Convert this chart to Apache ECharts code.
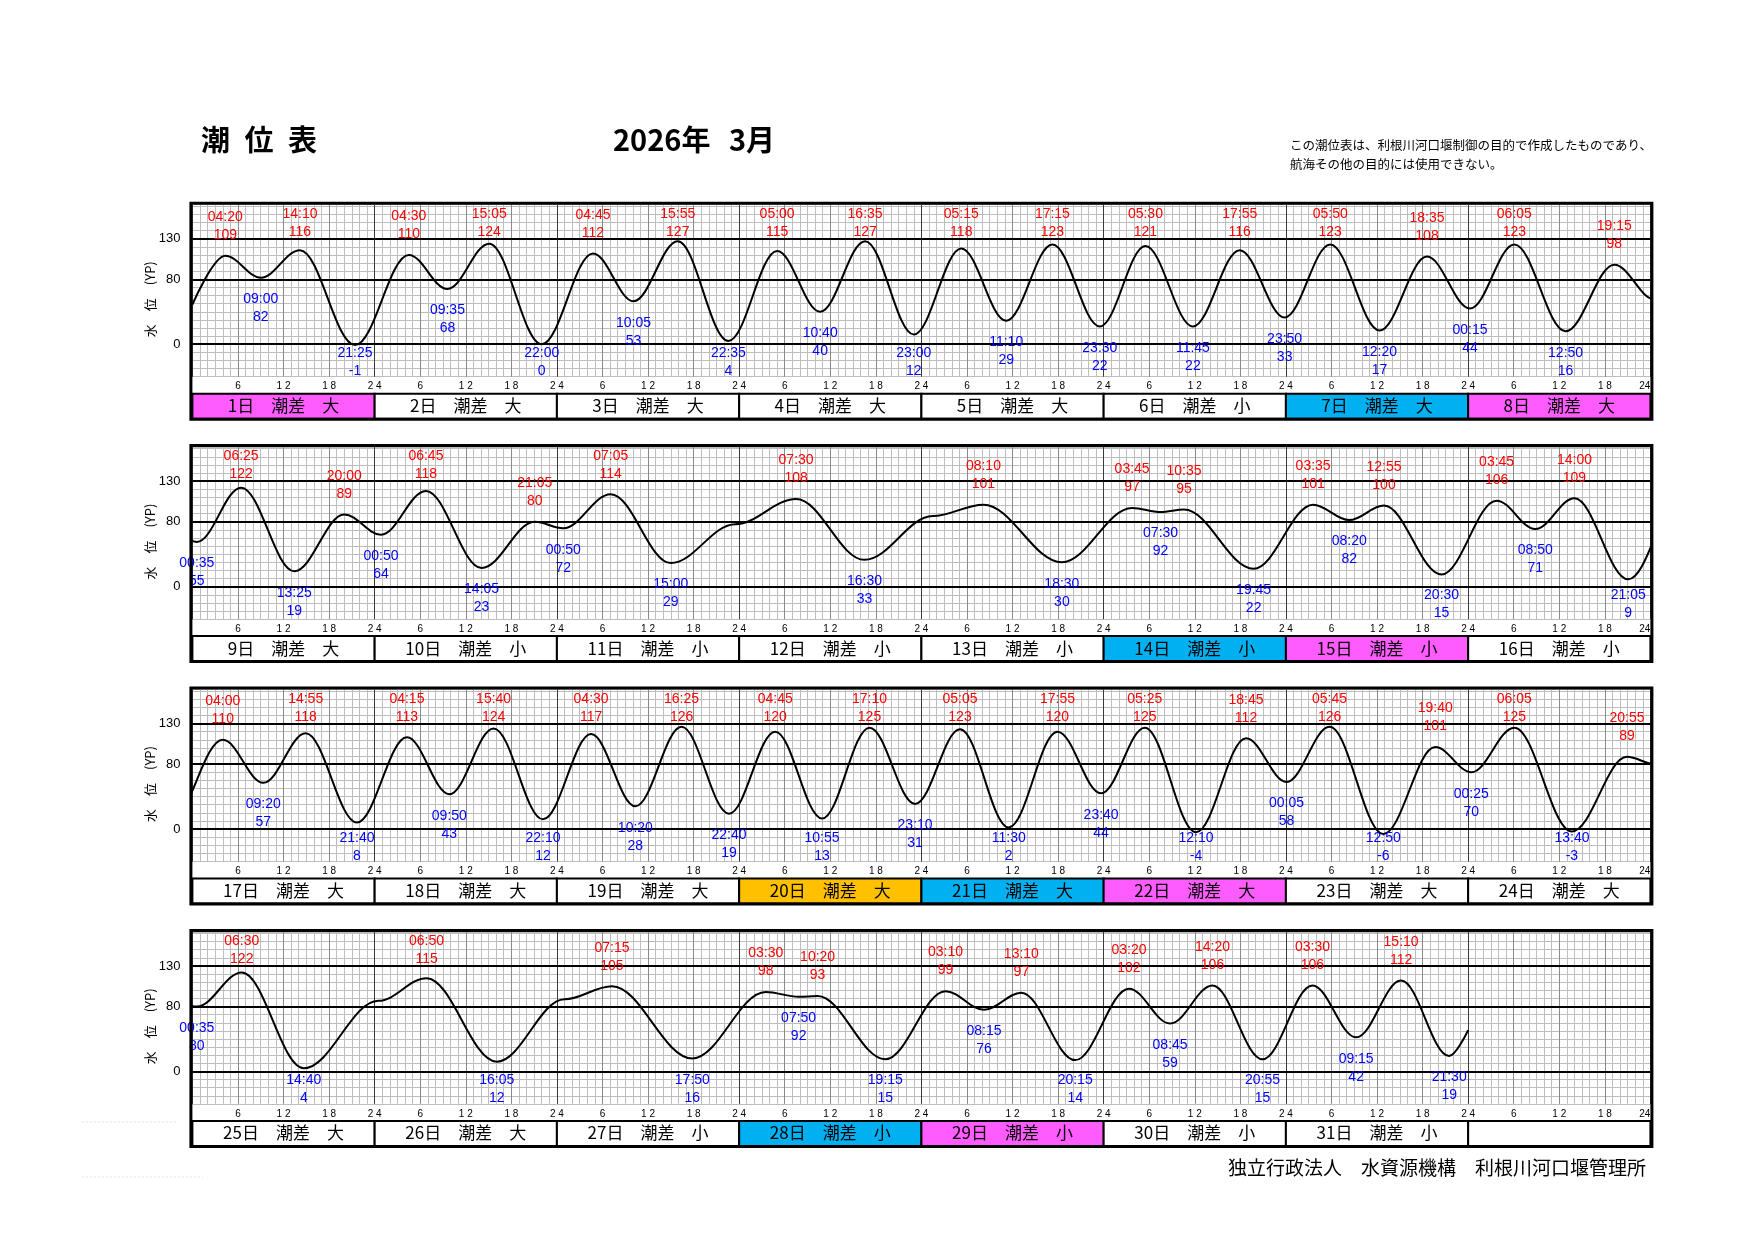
<!DOCTYPE html>
<html><head><meta charset="utf-8">
<script src="https://cdn.jsdelivr.net/npm/echarts@6/dist/echarts.min.js"></script>
<style>html,body{margin:0;padding:0;background:#fff}#c{width:1754px;height:1241px}</style>
</head><body><div id="c"></div>
<script>
// ---- data (2026年3月 潮位表) ----
const titleText = '潮\u2002位\u2002表';
const yearText = '2026年';
const monthText = '3月';
const noteLines = ['この潮位表は、利根川河口堰制御の目的で作成したものであり、', '航海その他の目的には使用できない。'];
const footerText = '独立行政法人　水資源機構　利根川河口堰管理所';
const yName = '水　位　(YP)';

const dayCount = 31;
const tideRange = ['大','大','大','大','大','小','大','大',
                   '大','小','小','小','小','小','小','小',
                   '大','大','大','大','大','大','大','大',
                   '大','大','小','小','小','小','小'];
const weekdayOfDay1 = 0;      // 2026-03-01 is Sunday
const holidays = [20];        // 春分の日

const extremeTime = [
 '1 04:20','1 09:00','1 14:10','1 21:25',
 '2 04:30','2 09:35','2 15:05','2 22:00',
 '3 04:45','3 10:05','3 15:55','3 22:35',
 '4 05:00','4 10:40','4 16:35','4 23:00',
 '5 05:15','5 11:10','5 17:15','5 23:30',
 '6 05:30','6 11:45','6 17:55','6 23:50',
 '7 05:50','7 12:20','7 18:35',
 '8 00:15','8 06:05','8 12:50','8 19:15',
 '9 00:35','9 06:25','9 13:25','9 20:00',
 '10 00:50','10 06:45','10 14:05','10 21:05',
 '11 00:50','11 07:05','11 15:00',
 '12 07:30','12 16:30',
 '13 08:10','13 18:30',
 '14 03:45','14 07:30','14 10:35','14 19:45',
 '15 03:35','15 08:20','15 12:55','15 20:30',
 '16 03:45','16 08:50','16 14:00','16 21:05',
 '17 04:00','17 09:20','17 14:55','17 21:40',
 '18 04:15','18 09:50','18 15:40','18 22:10',
 '19 04:30','19 10:20','19 16:25','19 22:40',
 '20 04:45','20 10:55','20 17:10','20 23:10',
 '21 05:05','21 11:30','21 17:55','21 23:40',
 '22 05:25','22 12:10','22 18:45',
 '23 00:05','23 05:45','23 12:50','23 19:40',
 '24 00:25','24 06:05','24 13:40','24 20:55',
 '25 00:35','25 06:30','25 14:40',
 '26 06:50','26 16:05',
 '27 07:15','27 17:50',
 '28 03:30','28 07:50','28 10:20','28 19:15',
 '29 03:10','29 08:15','29 13:10','29 20:15',
 '30 03:20','30 08:45','30 14:20','30 20:55',
 '31 03:30','31 09:15','31 15:10','31 21:30'
];
const extremeLevel = [
 109,82,116,-1,
 110,68,124,0,
 112,53,127,4,
 115,40,127,12,
 118,29,123,22,
 121,22,116,33,
 123,17,108,
 44,123,16,98,
 55,122,19,89,
 64,118,23,80,
 72,114,29,
 108,33,
 101,30,
 97,92,95,22,
 101,82,100,15,
 106,71,109,9,
 110,57,118,8,
 113,43,124,12,
 117,28,126,19,
 120,13,125,31,
 123,2,120,44,
 125,-4,112,
 58,126,-6,101,
 70,125,-3,89,
 80,122,4,
 115,12,
 105,16,
 98,92,93,15,
 99,76,97,14,
 102,59,106,15,
 106,42,112,19
];
// unlabelled bends of the curve
const shoulderTime = ['11 23:30','13 01:30','26 00:30','27 01:00'];
const shoulderLevel = [77, 87, 87, 89];
// curve ends
const startTime = '1 00:00', startLevel = 49;
const endTime = '31 24:00', endLevel = 51;

const levelLabels = [0, 80, 130];
const levelMin = -40, levelMax = 172;

// ---- helpers ----
function toHours(s) {
  const [d, hm] = s.split(' ');
  const [h, m] = hm.split(':').map(Number);
  return (Number(d) - 1) * 24 + h + m / 60;
}
const curveData = [[toHours(startTime), startLevel]]
  .concat(extremeTime.map((t, i) => [toHours(t), extremeLevel[i]]))
  .concat(shoulderTime.map((t, i) => [toHours(t), shoulderLevel[i]]))
  .concat([[toHours(endTime), endLevel]])
  .sort((a, b) => a[0] - b[0]);

function isHigh(i) {
  const n = i + 1 < extremeLevel.length ? extremeLevel[i + 1] : extremeLevel[i - 1];
  return extremeLevel[i] > n;
}
function dayColor(d) {
  if (d > dayCount) return '#ffffff';
  if (holidays.includes(d)) return '#ffc000';
  const wd = (weekdayOfDay1 + d - 1) % 7;
  if (wd === 0) return '#ff5cff';
  if (wd === 6) return '#00b0f0';
  return '#ffffff';
}
function spaced(n) { return String(n).split('').join(' '); }

// ---- layout ----
const L = 192.4, W = 1458, T0 = 204.7, PITCH = 242.4, H = 172;
const JP = '"Noto Sans CJK JP"';
const LAT = '"Liberation Sans"';

const grid = [], xAxis = [], yAxis = [], series = [], graphic = [];

for (let p = 0; p < 4; p++) {
  const top = T0 + p * PITCH;
  const xmin = p * 192, xmax = xmin + 192;
  grid.push({ left: L, top: top, width: W, height: H });
  xAxis.push({
    gridIndex: p, type: 'value', min: xmin, max: xmax, interval: 6, position: 'bottom',
    axisLine: { show: false }, axisTick: { show: false },
    splitLine: { show: true, lineStyle: { color: '#8a8a8a', width: 1 } },
    minorTick: { show: false, splitNumber: 6 },
    minorSplitLine: { show: true, lineStyle: { color: '#bdbdbd', width: 1 } },
    axisLabel: {
      show: true, margin: 5, fontSize: 10, fontFamily: LAT, color: '#000',
      showMinLabel: false, showMaxLabel: true, alignMaxLabel: 'right',
      formatter: function (v) {
        const rel = Math.round(v - xmin);
        if (rel <= 0) return '';
        if (rel === 192) return '24';
        const h = rel % 24 === 0 ? 24 : rel % 24;
        return spaced(h);
      }
    }
  });
  xAxis.push({
    gridIndex: p, type: 'value', min: xmin, max: xmax, interval: 24, position: 'top', z: 1,
    axisLine: { show: false }, axisTick: { show: false }, axisLabel: { show: false },
    splitLine: { show: true, lineStyle: { color: '#3a3a3a', width: 1 } }
  });
  yAxis.push({
    gridIndex: p, type: 'value', min: levelMin, max: levelMax, interval: 10,
    axisLine: { show: false }, axisTick: { show: false },
    splitLine: { show: true, lineStyle: { color: '#bdbdbd', width: 1 } },
    axisLabel: {
      margin: 12, fontSize: 13, fontFamily: LAT, color: '#000',
      formatter: v => levelLabels.includes(v) ? String(v) : ''
    }
  });

  // tide curve
  series.push({
    type: 'line', xAxisIndex: 2 * p, yAxisIndex: p, data: curveData,
    smooth: 0.36, smoothMonotone: 'x', symbol: 'none', clip: true, silent: true,
    lineStyle: { color: '#000', width: 2 }, z: 3, animation: false,
    markLine: {
      silent: true, symbol: 'none', label: { show: false }, animation: false,
      lineStyle: { color: '#000', width: 2, type: 'solid' },
      data: levelLabels.map(v => ({ yAxis: v }))
    }
  });

  // high / low labels
  const labelData = [];
  extremeTime.forEach((t, i) => {
    const d = Number(t.split(' ')[0]);
    if (d > p * 8 && d <= p * 8 + 8) labelData.push([toHours(t), extremeLevel[i], i]);
  });
  series.push({
    type: 'custom', xAxisIndex: 2 * p, yAxisIndex: p, data: labelData, z: 5, silent: true,
    encode: { x: 0, y: 1 }, clip: false, animation: false,
    renderItem: function (params, api) {
      const i = api.value(2);
      const pt = api.coord([api.value(0), api.value(1)]);
      const cs = params.coordSys;
      const high = isHigh(i);
      let c;
      if (high) c = Math.max(pt[1] - 29.5, cs.y + 18.5);
      else c = Math.min(pt[1] + 30.5, cs.y + cs.height - 14.5);
      const col = high ? '#ff0000' : '#0000ff';
      const font = '14px ' + LAT;
      return {
        type: 'group', children: [
          { type: 'text', x: pt[0], y: c - 9, style: { text: extremeTime[i].split(' ')[1], fill: col, font: font, align: 'center', verticalAlign: 'middle' } },
          { type: 'text', x: pt[0], y: c + 9, style: { text: String(extremeLevel[i]), fill: col, font: font, align: 'center', verticalAlign: 'middle' } }
        ]
      };
    }
  });

  // day row cells
  const cellData = [];
  for (let k = 0; k < 8; k++) {
    const d = p * 8 + k + 1;
    cellData.push([(d - 1) * 24, 0, d]);
  }
  series.push({
    type: 'custom', xAxisIndex: 2 * p, yAxisIndex: p, data: cellData, z: 4, silent: true,
    encode: { x: 0, y: 1 }, clip: false, animation: false,
    renderItem: function (params, api) {
      const d = api.value(2);
      const x0 = api.coord([api.value(0), levelMin])[0];
      const x1 = api.coord([api.value(0) + 24, levelMin])[0];
      const yb = params.coordSys.y + params.coordSys.height;
      const children = [
        { type: 'rect', shape: { x: x0, y: yb + 17, width: x1 - x0, height: 25 }, style: { fill: dayColor(d), stroke: '#000', lineWidth: 2 } }
      ];
      if (d <= dayCount) {
        children.push({ type: 'text', x: (x0 + x1) / 2, y: yb + 29, style: { text: d + '日　潮差　' + tideRange[d - 1], fill: '#000', font: '17px ' + JP, align: 'center', verticalAlign: 'middle' } });
      }
      return { type: 'group', children: children };
    }
  });

  // panel border
  graphic.push({ type: 'rect', z: 20, silent: true, shape: { x: L - 1.5, y: top - 1.5, width: W + 3, height: H + 44 }, style: { fill: 'none', stroke: '#000', lineWidth: 3 } });
  // axis name
  graphic.push({ type: 'text', z: 20, x: 150, y: top + 94.5, rotation: Math.PI / 2, style: { text: yName, fill: '#000', font: '13px ' + JP, align: 'center', verticalAlign: 'middle' } });
}

graphic.push({ type: 'text', x: 201, y: 140, style: { text: titleText, fill: '#000', font: 'bold 29px ' + JP, align: 'left', verticalAlign: 'middle' } });
graphic.push({ type: 'text', x: 613, y: 140, style: { text: yearText, fill: '#000', font: 'bold 29px ' + JP, align: 'left', verticalAlign: 'middle' } });
graphic.push({ type: 'text', x: 729, y: 140, style: { text: monthText, fill: '#000', font: 'bold 29px ' + JP, align: 'left', verticalAlign: 'middle' } });
noteLines.forEach((s, i) => graphic.push({ type: 'text', x: 1290, y: 145.5 + i * 19, style: { text: s, fill: '#000', font: '12.5px ' + JP, align: 'left', verticalAlign: 'middle' } }));
graphic.push({ type: 'text', x: 1646, y: 1168, style: { text: footerText, fill: '#000', font: '19px ' + JP, align: 'right', verticalAlign: 'middle' } });
graphic.push({ type: 'line', shape: { x1: 82, y1: 1122, x2: 178, y2: 1122 }, style: { stroke: '#e4e4e4', lineWidth: 1, lineDash: [2, 2] } });
graphic.push({ type: 'line', shape: { x1: 82, y1: 1177, x2: 203, y2: 1177 }, style: { stroke: '#e4e4e4', lineWidth: 1, lineDash: [2, 2] } });

const chart = echarts.init(document.getElementById('c'), null, { renderer: 'canvas', width: 1754, height: 1241 });
chart.setOption({
  backgroundColor: '#ffffff',
  animation: false,
  grid: grid, xAxis: xAxis, yAxis: yAxis, series: series,
  graphic: { elements: graphic }
});
</script>
</body></html>
